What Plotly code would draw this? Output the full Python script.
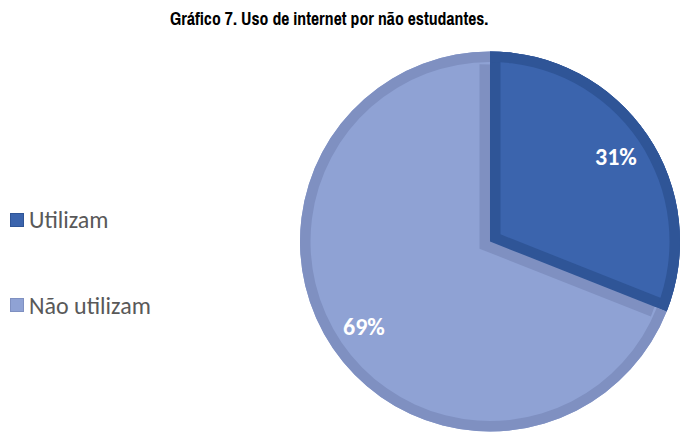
import math
import plotly.graph_objects as go

# Share of non-students who use the internet
categories = ["Utilizam", "Não utilizam"]
shares = [31, 69]
fill_colors = ["#3B64AD", "#8FA2D4"]
edge_colors = ["#2F5597", "#7F90C1"]
title_text = "Gráfico 7. Uso de internet por não estudantes."

W, H = 680, 433
CX, CY, R = 490.0, 241.5, 190.0   # pie centre and radius (px)
EDGE = 10.5                        # inner border width of each slice (px)
CLEAR = "rgba(0,0,0,0)"
BODY_FONT = "Carlito, Calibri, Lato, sans-serif"
TITLE_FONT = "Archivo Narrow, Arial Narrow, Roboto Condensed, sans-serif"

total = sum(shares)
half = math.pi * shares[0] / total          # half-angle of the first slice
ux, uy = math.sin(half), -math.cos(half)   # its bisector, screen coordinates
shift = EDGE / math.sin(half)               # apex offset giving a parallel inset


def clamp(v):
    return min(1.0, max(0.0, round(v, 6)))


def domain(cx, cy, r):
    r = min(r, cx, W - cx, cy, H - cy)
    return dict(x=[clamp((cx - r) / W), clamp((cx + r) / W)],
                y=[clamp(1 - (cy + r) / H), clamp(1 - (cy - r) / H)])


def layer(colors, cx, cy, r, hole=0.0, **kw):
    opts = dict(hoverinfo="skip")
    opts.update(kw)
    return go.Pie(
        labels=categories, values=shares, sort=False, direction="clockwise",
        rotation=0, hole=hole, domain=domain(cx, cy, r), textinfo="none",
        showlegend=False,
        marker=dict(colors=colors, line=dict(width=0)),
        **opts,
    )


fig = go.Figure()
# slice fills
fig.add_trace(layer(fill_colors, CX, CY, R,
                    hovertemplate="%{label}: %{value}%<extra></extra>",
                    hoverinfo=None))
# border band on the light side of the radial edges
fig.add_trace(layer([edge_colors[1], CLEAR], CX - shift * ux, CY - shift * uy,
                    R - EDGE + shift * math.cos(half) + 1))
# first slice: border colour, then its inset fill
fig.add_trace(layer([edge_colors[0], CLEAR], CX, CY, R))
fig.add_trace(layer([fill_colors[0], CLEAR], CX + shift * ux, CY + shift * uy,
                    R - shift))
# outer border ring
fig.add_trace(layer(edge_colors, CX, CY, R, hole=(R - EDGE) / R))

annotations = []


def px(x, y):
    return dict(xref="paper", yref="paper", x=x / W, y=1 - y / H)


# percentage labels along each slice bisector
cum = 0
for name, v in zip(categories, shares):
    ang = 2 * math.pi * (cum + v / 2) / total
    cum += v
    lx = CX + 0.8 * R * math.sin(ang)
    ly = CY - 0.8 * R * math.cos(ang)
    annotations.append(dict(
        **px(lx, ly), text=f"{v}%", showarrow=False,
        xanchor="center", yanchor="middle",
        font=dict(family=BODY_FONT, size=24, color="white", weight="bold"),
    ))

# legend entries
legend_rows = [219.7, 305.3]
for name, col, edge, ly in zip(categories, fill_colors, edge_colors, legend_rows):
    annotations.append(dict(
        **px(16.7, ly), text=" ", showarrow=False, width=12, height=12,
        bgcolor=col, bordercolor=edge, borderwidth=1, borderpad=0,
        xanchor="center", yanchor="middle",
    ))
    annotations.append(dict(
        **px(27.5, ly), text=name, showarrow=False, borderpad=0,
        xanchor="left", yanchor="middle",
        font=dict(family=BODY_FONT, size=24, color="#595959"),
    ))

# chart title
annotations.append(dict(
    **px(328.5, 18.5), text=title_text, showarrow=False,
    xanchor="center", yanchor="middle",
    font=dict(family=TITLE_FONT, size=17.7, color="#000000", weight="bold"),
))

fig.update_layout(
    width=W, height=H,
    margin=dict(l=0, r=0, t=0, b=0),
    paper_bgcolor="white", plot_bgcolor="white",
    showlegend=False,
    annotations=annotations,
)

fig.write_html("out.html")
